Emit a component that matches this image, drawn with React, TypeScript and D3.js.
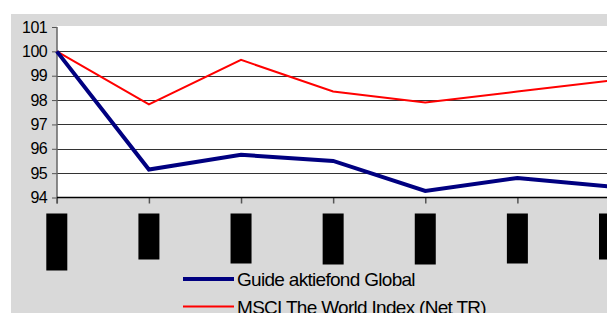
import React, { useEffect, useRef } from 'react';
import * as d3 from 'd3';

// values (index, start = 100)
const periods = ['p0', 'p1', 'p2', 'p3', 'p4', 'p5', 'p6'];
const guideValues = [100, 95.15, 95.75, 95.5, 94.27, 94.8, 94.45];
const msciValues = [100, 97.82, 99.65, 98.35, 97.9, 98.35, 98.8];
const yTicks = [94, 95, 96, 97, 98, 99, 100, 101];
const seriesNames = ['Guide aktiefond Global', 'MSCI The World Index (Net TR)'];
// category labels are blacked out in the reference; box lengths per label
const labelBoxHeights = [57, 46, 50, 51, 51, 50, 46];

const App = () => {
  const ref = useRef<SVGSVGElement>(null);

  useEffect(() => {
    const svg = d3.select(ref.current);
    svg.selectAll('*').remove();
    const width = 607;
    const height = 313;
    const font = "'Liberation Sans', Arial, sans-serif";

    const left = 57;
    const top = 27;
    const bottom = 197.5;

    // background
    svg.append('rect').attr('x', 11).attr('y', 14)
      .attr('width', width - 11).attr('height', height - 14).attr('fill', '#d9d9d9');
    svg.append('rect').attr('x', left).attr('y', 26)
      .attr('width', width - left).attr('height', bottom - 26).attr('fill', '#fff');

    const x = d3.scalePoint().domain(periods).range([56.8, 609.5]);
    const y = d3.scaleLinear().domain([94, 101]).range([bottom, top]);

    // grid
    svg.append('g').selectAll('line')
      .data(yTicks.filter(d => d > 94 && d < 101))
      .join('line')
      .attr('x1', left).attr('x2', width)
      .attr('y1', d => Math.round(y(d)) + 0.5).attr('y2', d => Math.round(y(d)) + 0.5)
      .attr('stroke', '#333').attr('stroke-width', 1);

    // y axis
    const yAxis = svg.append('g')
      .attr('transform', `translate(${left},0)`)
      .call(d3.axisLeft(y).tickValues(yTicks).tickSize(5).tickPadding(5).tickFormat(d3.format('d')));
    yAxis.select('.domain').remove();
    yAxis.selectAll('.tick line').attr('stroke', '#555');
    yAxis.selectAll('text')
      .attr('font-family', font).attr('font-size', 16).attr('fill', '#000')
      .attr('letter-spacing', -0.6);
    svg.append('line').attr('x1', left).attr('x2', left).attr('y1', top).attr('y2', bottom + 6)
      .attr('stroke', '#666').attr('stroke-width', 1.5);

    // x axis
    const xAxis = svg.append('g')
      .attr('transform', `translate(0,${bottom})`)
      .call(d3.axisBottom(x).tickSize(6).tickFormat(() => ''));
    xAxis.select('.domain').remove();
    xAxis.selectAll('.tick line').attr('stroke', '#555').attr('stroke-width', 1.5);
    svg.append('line').attr('x1', left).attr('x2', width).attr('y1', bottom).attr('y2', bottom)
      .attr('stroke', '#000').attr('stroke-width', 1.3);

    // blacked-out category labels
    svg.append('g').selectAll('rect')
      .data(periods)
      .join('rect')
      .attr('x', d => (x(d) as number) - 10.5)
      .attr('y', 213.5)
      .attr('width', 21)
      .attr('height', (d, i) => labelBoxHeights[i])
      .attr('fill', '#000');

    // lines
    const line = d3.line<number>().x((d, i) => x(periods[i]) as number).y(d => y(d));
    svg.append('path').datum(msciValues).attr('d', line)
      .attr('fill', 'none').attr('stroke', '#ff0000').attr('stroke-width', 2);
    svg.append('path').datum(guideValues).attr('d', line)
      .attr('fill', 'none').attr('stroke', '#000080').attr('stroke-width', 4)
      .attr('stroke-linejoin', 'miter');

    // legend
    const legend = [
      { name: seriesNames[0], color: '#000080', w: 4, y: 279 },
      { name: seriesNames[1], color: '#ff0000', w: 2, y: 306.5 },
    ];
    const lg = svg.append('g').selectAll('g').data(legend).join('g');
    lg.append('line')
      .attr('x1', 183).attr('x2', 234)
      .attr('y1', d => d.y).attr('y2', d => d.y)
      .attr('stroke', d => d.color).attr('stroke-width', d => d.w);
    lg.append('text')
      .attr('x', 237).attr('y', d => d.y + 7)
      .attr('font-family', font).attr('font-size', 19)
      .attr('letter-spacing', -0.7)
      .attr('fill', '#000')
      .text(d => d.name);
  }, []);

  return (
    <svg ref={ref} width={607} height={313}
      style={{ position: 'absolute', left: 0, top: 0, display: 'block' }} />
  );
};

export default App;
